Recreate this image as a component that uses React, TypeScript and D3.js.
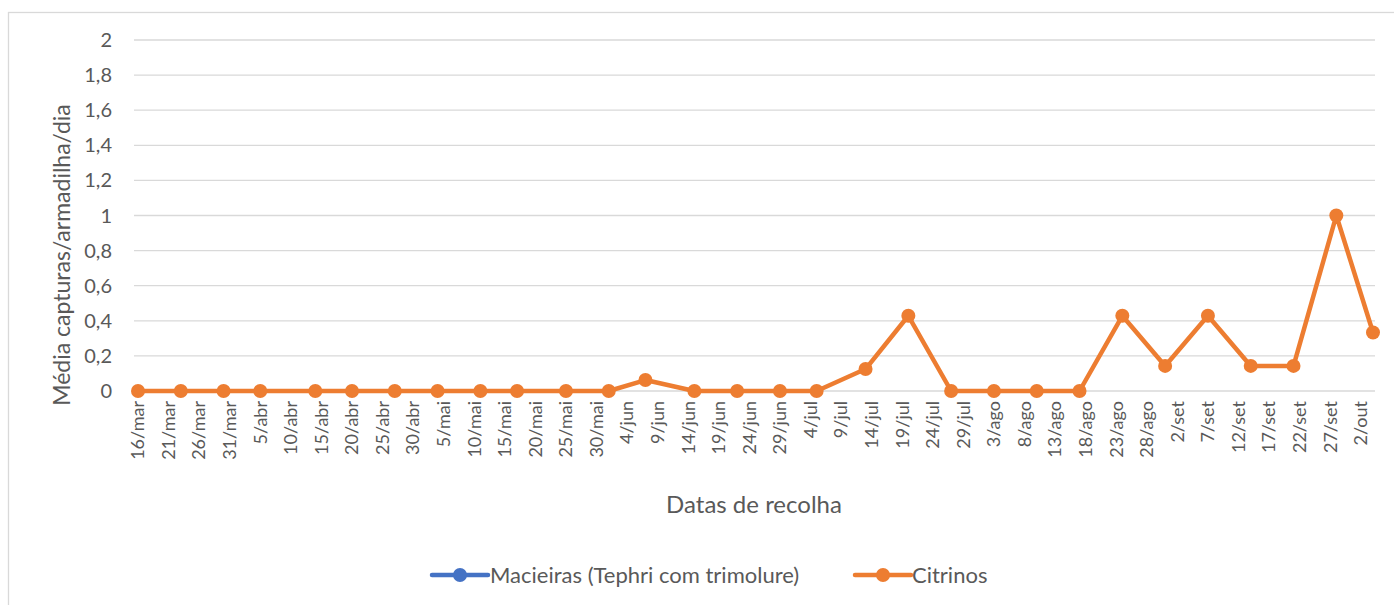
import React from 'react';
import * as d3 from 'd3';

// datas de recolha (2019, dia/mês)
const dates = [
  '16/03', '23/03', '30/03', '05/04', '14/04', '20/04', '27/04', '04/05', '11/05', '17/05',
  '25/05', '01/06', '07/06', '15/06', '22/06', '29/06', '05/07', '13/07', '20/07', '27/07',
  '03/08', '10/08', '17/08', '24/08', '31/08', '07/09', '14/09', '21/09', '28/09', '04/10',
];
// a série das macieiras não tem pontos visíveis no gráfico
const macieiras: (number | null)[] = dates.map(() => null);
const citrinos = [
  0, 0, 0, 0, 0, 0, 0, 0, 0, 0, 0, 0, 0.0625, 0, 0, 0, 0, 0.125, 0.4286, 0,
  0, 0, 0, 0.4286, 0.1429, 0.4286, 0.1429, 0.1429, 1, 0.3333,
];
const yTicks = [0, 0.2, 0.4, 0.6, 0.8, 1, 1.2, 1.4, 1.6, 1.8, 2];
const meses = ['jan', 'fev', 'mar', 'abr', 'mai', 'jun', 'jul', 'ago', 'set', 'out', 'nov', 'dez'];

const parse = (s: string) => {
  const [d, m] = s.split('/').map(Number);
  return new Date(Date.UTC(2019, m - 1, d));
};

const FONT = 'Lato, "Open Sans", sans-serif';
const TEXT = '#595959';
const GRID = '#d9d9d9';

export default function App() {
  const width = 1394;
  const height = 605;
  const left = 134;
  const right = 1375;

  const parsed = dates.map(parse);
  const x = d3.scaleUtc()
    .domain([parsed[0], parsed[parsed.length - 1]])
    .range([138, 1373]);
  const y = d3.scaleLinear().domain([0, 2]).range([391, 40]);

  // marcas de 5 em 5 dias a partir do primeiro dia
  const ticks = d3.utcDay.range(parsed[0], d3.utcDay.offset(parsed[parsed.length - 1], 1), 5);
  const fmt = (d: Date) => `${d.getUTCDate()}/${meses[d.getUTCMonth()]}`;

  const line = d3.line<[Date, number | null]>()
    .defined(d => d[1] != null)
    .x(d => x(d[0]))
    .y(d => y(d[1] as number));

  const series = [
    { name: 'Macieiras (Tephri com trimolure)', color: '#4472C4', values: macieiras },
    { name: 'Citrinos', color: '#ED7D31', values: citrinos },
  ];

  const legend = [
    { x: 432, textX: 490 },
    { x: 855, textX: 912 },
  ];

  return (
    <svg width={width} height={height} style={{ position: 'absolute', left: 0, top: 0 }}>
      <rect x={0} y={0} width={width} height={height} fill="#fff" />
      <rect x={8.5} y={12.5} width={width + 10} height={height + 10} fill="none" stroke={GRID} strokeWidth={1.3} />

      {/* gridlines */}
      {yTicks.map(t => (
        <line key={t} x1={left} x2={right} y1={y(t)} y2={y(t)} stroke={GRID} strokeWidth={1.3} />
      ))}

      {/* y tick labels */}
      {yTicks.map(t => (
        <text key={t} x={112} y={y(t)} dy="0.35em" textAnchor="end" fontFamily={FONT} fontSize={20} fill={TEXT}>
          {String(t).replace('.', ',')}
        </text>
      ))}

      {/* x tick labels */}
      {ticks.map(t => (
        <text
          key={t.getTime()}
          transform={`translate(${x(t)},401) rotate(-90)`}
          dy="0.35em"
          textAnchor="end"
          fontFamily={FONT}
          fontSize={18}
          fill={TEXT}
        >
          {fmt(t)}
        </text>
      ))}

      {/* series */}
      {series.map(s => {
        const pts: [Date, number | null][] = parsed.map((d, i) => [d, s.values[i]]);
        return (
          <g key={s.name}>
            <path d={line(pts) || ''} fill="none" stroke={s.color} strokeWidth={4.5} strokeLinejoin="round" />
            {pts.filter(p => p[1] != null).map((p, i) => (
              <circle key={i} cx={x(p[0])} cy={y(p[1] as number)} r={7} fill={s.color} />
            ))}
          </g>
        );
      })}

      {/* axis titles */}
      <text
        transform="translate(62,255) rotate(-90)"
        dy="0.35em"
        textAnchor="middle"
        fontFamily={FONT}
        fontSize={23}
        fill={TEXT}
      >
        Média capturas/armadilha/dia
      </text>
      <text x={754} y={505} dy="0.35em" textAnchor="middle" fontFamily={FONT} fontSize={24} fill={TEXT}>
        Datas de recolha
      </text>

      {/* legend */}
      {series.map((s, i) => (
        <g key={s.name}>
          <line x1={legend[i].x} x2={legend[i].x + 56} y1={575} y2={575} stroke={s.color} strokeWidth={4.5} strokeLinecap="round" />
          <circle cx={legend[i].x + 28} cy={575} r={7} fill={s.color} />
          <text x={legend[i].textX} y={575} dy="0.35em" fontFamily={FONT} fontSize={22} fill={TEXT}>
            {s.name}
          </text>
        </g>
      ))}
    </svg>
  );
}
